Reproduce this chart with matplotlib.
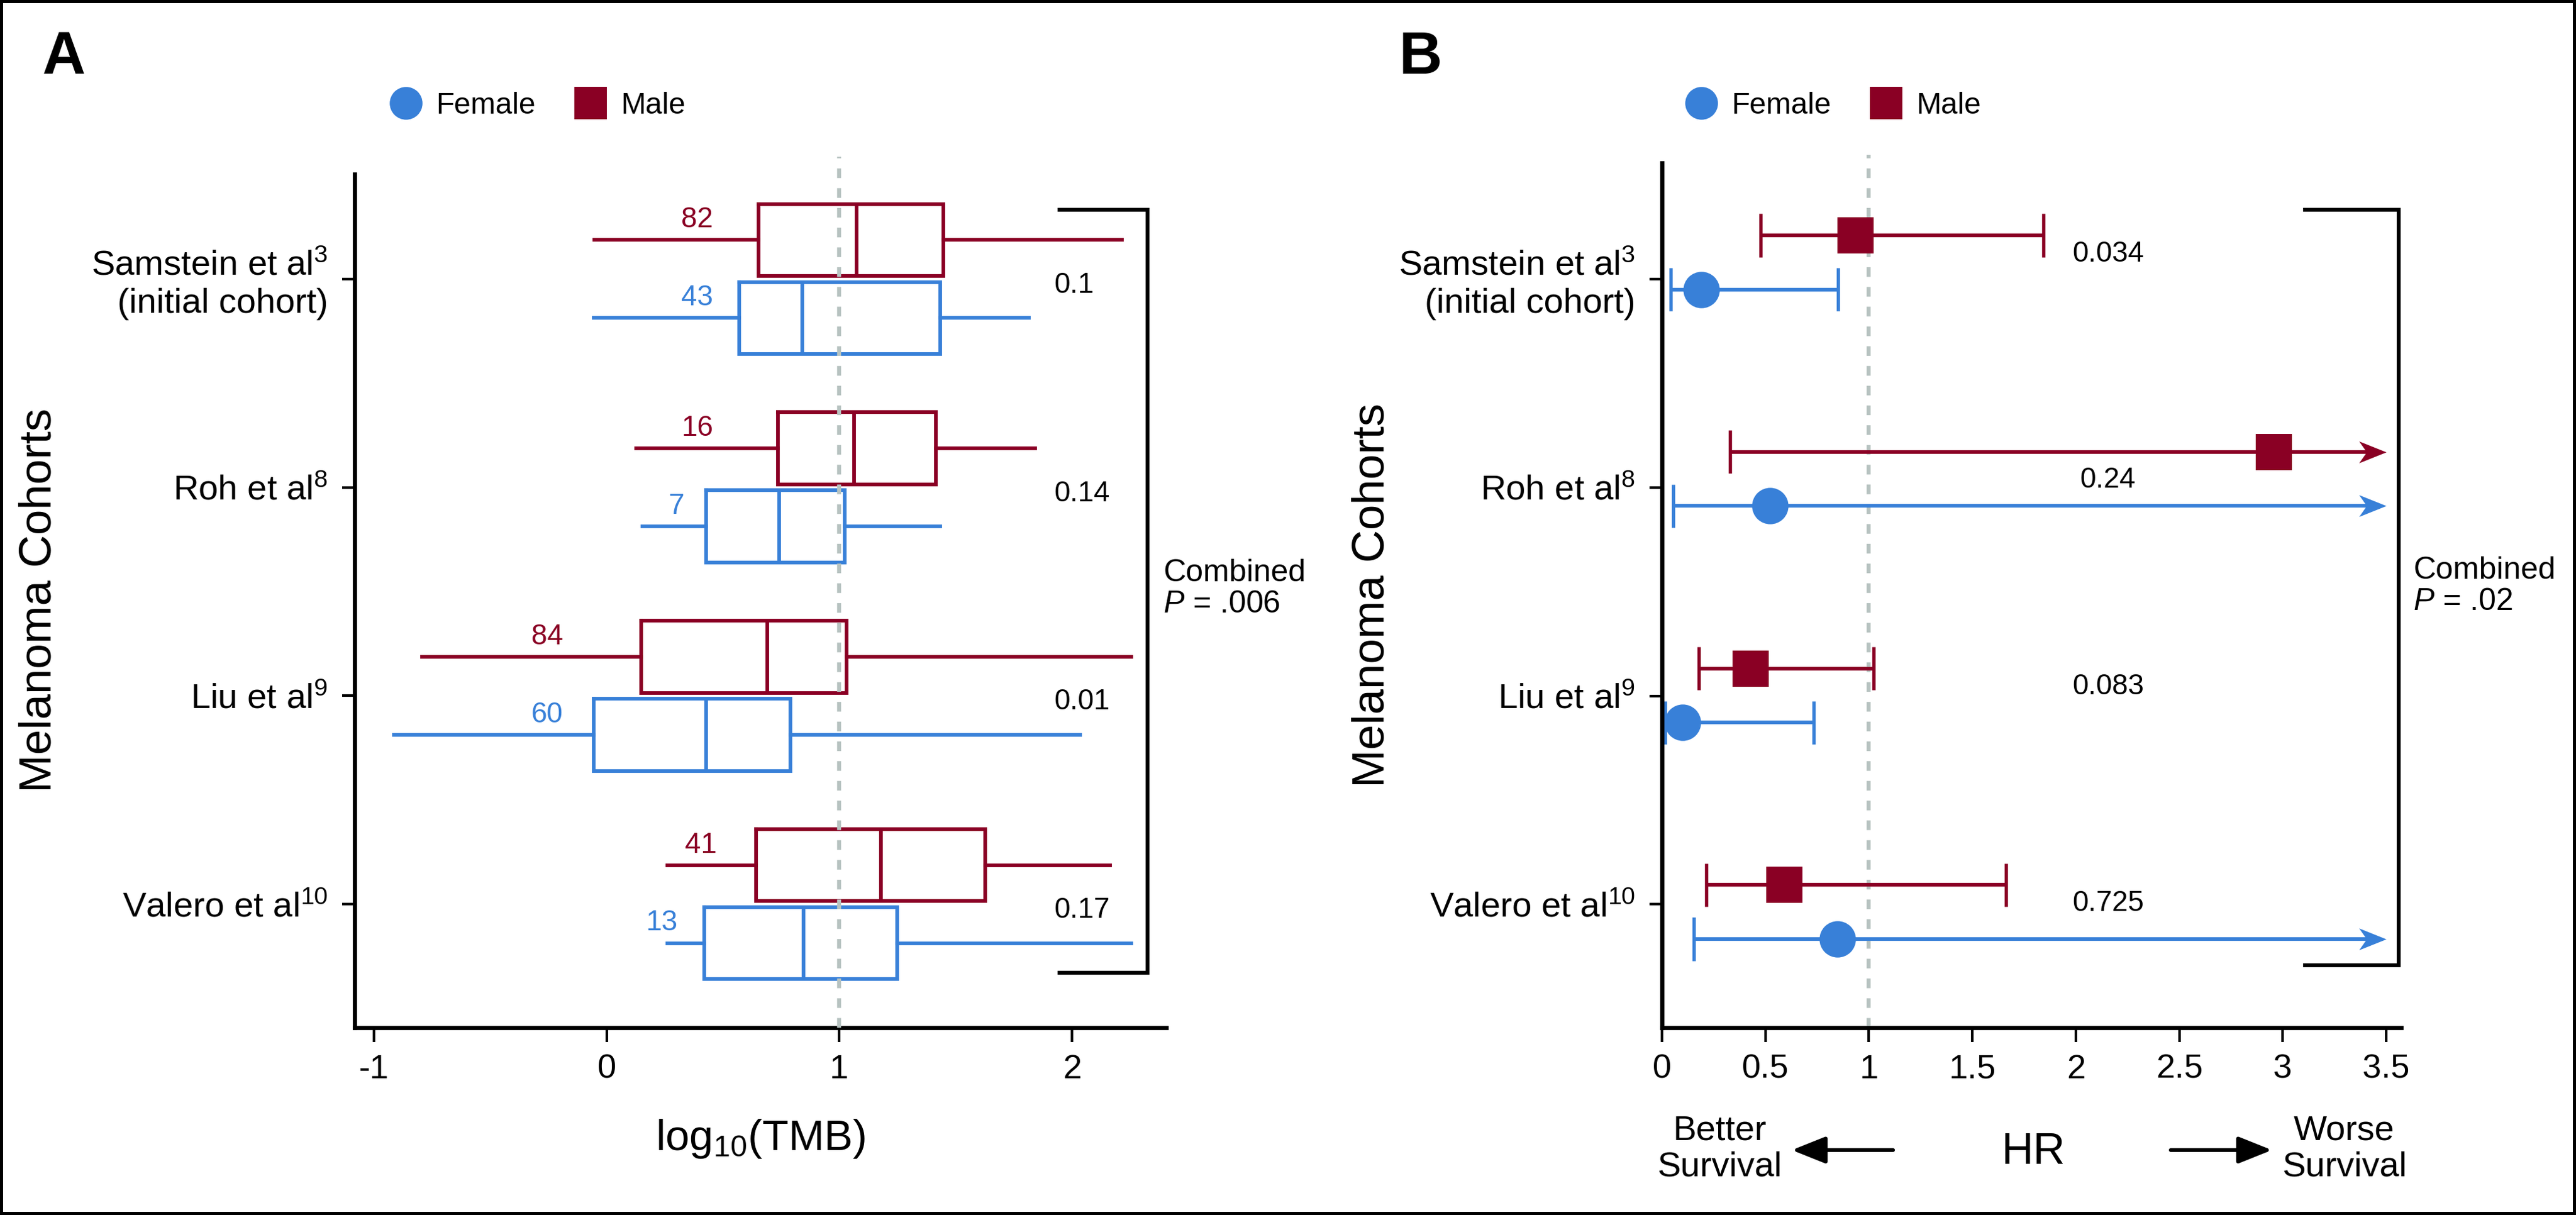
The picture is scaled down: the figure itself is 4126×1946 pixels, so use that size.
import numpy as np
import matplotlib
matplotlib.use('Agg')
import matplotlib.pyplot as plt
from matplotlib.lines import Line2D
from matplotlib.patches import Rectangle, FancyArrowPatch

plt.rcParams['font.family'] = ['Liberation Sans', 'DejaVu Sans']
plt.rcParams['mathtext.fontset'] = 'custom'
plt.rcParams['mathtext.rm'] = 'Liberation Sans'
plt.rcParams['mathtext.it'] = 'Liberation Sans:italic'
plt.rcParams['mathtext.bf'] = 'Liberation Sans:bold'
plt.rcParams['axes.unicode_minus'] = False

RED = '#8A0024'
BLUE = '#3880D8'
GREY = '#B7C3C1'

# ---- data ----
cohorts = ['Samstein et al$^{3}$\n(initial cohort)', 'Roh et al$^{8}$',
           'Liu et al$^{9}$', 'Valero et al$^{10}$']

# panel A: log10(TMB) box summaries -> whislo, q1, median, q3, whishi
male_box = [[-0.054, 0.652, 1.075, 1.446, 2.215],
            [0.128, 0.737, 1.064, 1.415, 1.842],
            [-0.794, 0.148, 0.691, 1.030, 2.254],
            [0.261, 0.641, 1.178, 1.627, 2.163]]
female_box = [[-0.055, 0.570, 0.841, 1.435, 1.815],
              [0.155, 0.427, 0.741, 1.023, 1.435],
              [-0.914, -0.056, 0.427, 0.790, 2.035],
              [0.261, 0.420, 0.847, 1.249, 2.254]]
male_n = [82, 16, 84, 41]
female_n = [43, 7, 60, 13]
p_tmb = ['0.1', '0.14', '0.01', '0.17']
p_tmb_combined = '.006'

# panel B: hazard ratios with 95% CI (nan = upper bound off the scale)
male_hr = [0.935, 2.957, 0.428, 0.591]
male_lo = [0.477, 0.329, 0.178, 0.214]
male_hi = [1.844, np.nan, 1.023, 1.663]
female_hr = [0.190, 0.522, 0.099, 0.848]
female_lo = [0.042, 0.054, 0.015, 0.154]
female_hi = [0.851, np.nan, 0.733, np.nan]
p_hr = ['0.034', '0.24', '0.083', '0.725']
p_hr_combined = '.02'

# ---- layout helpers (pixels of a 4126 x 1946 canvas) ----
W, H = 4126, 1946
def fx(x):
    return x / W
def fy(y):
    return 1 - y / H

fig = plt.figure(figsize=(W / 300, H / 300), dpi=300)
axA = fig.add_axes([fx(568), fy(1646), (1868 - 568) / W, (1646 - 251) / H])
axB = fig.add_axes([fx(2662), fy(1646), (3846 - 2662) / W, (1646 - 248) / H])

for ax in (axA, axB):
    for s in ['top', 'right']:
        ax.spines[s].set_visible(False)
    for s in ['left', 'bottom']:
        ax.spines[s].set_linewidth(1.6)
    ax.tick_params(axis='x', length=5.5, width=1, pad=4.5, labelsize=13)
    ax.tick_params(axis='y', length=4.8, width=1, pad=5.5, labelsize=13.5)

# ---- panel A ----
rows = np.arange(len(cohorts))
off_a = 0.187
series_a = [(male_box, male_n, rows - off_a, RED),
            (female_box, female_n, rows + off_a, BLUE)]
count_x = [[0.458, 0.458, -0.188, 0.472],
           [0.458, 0.335, -0.188, 0.306]]
for k, (boxes, ns, pos, col) in enumerate(series_a):
    stats = [dict(whislo=b[0], q1=b[1], med=b[2], q3=b[3], whishi=b[4]) for b in boxes]
    lp = dict(color=col, lw=1.4, solid_joinstyle='miter')
    axA.bxp(stats, positions=pos, widths=0.346, orientation='horizontal',
            showcaps=False, showfliers=False, manage_ticks=False,
            boxprops=lp, whiskerprops=lp, medianprops=lp)
    for i, n in enumerate(ns):
        axA.text(count_x[k][i], pos[i] - 0.096, str(n), ha='right', va='center',
                 color=col, fontsize=11)

for i, p in enumerate(p_tmb):
    axA.text(1.922, rows[i] + 0.03, p, ha='left', va='center', fontsize=11)

axA.axvline(1, color=GREY, lw=1.55, dashes=(2.4, 2.5), zorder=3)
axA.plot([1.946, 2.324, 2.324, 1.946], [-0.332, -0.332, 3.33, 3.33],
         color='black', lw=1.5, clip_on=False, solid_joinstyle='miter')

axA.set_xlim(-1.083, 2.405)
axA.set_ylim(3.593, -0.587)
axA.spines['left'].set_bounds(-0.503, 3.593)
axA.set_xticks([-1, 0, 1, 2])
axA.set_yticks(rows)
axA.set_yticklabels(cohorts)

# ---- panel B ----
rows_b = np.arange(len(cohorts))
off_b = 0.125
cap = 0.1
x_end = 3.5
arrow_head = [(0, 0), (-1, 0.4), (-0.72, 0), (-1, -0.4), (0, 0)]
series_b = [(male_hr, male_lo, male_hi, rows_b - off_b, RED, 's'),
            (female_hr, female_lo, female_hi, rows_b + off_b, BLUE, 'o')]
for hr, lo, hi, pos, col, mk in series_b:
    hr, lo, hi = np.array(hr), np.array(lo), np.array(hi)
    open_hi = np.isnan(hi)
    hi_draw = np.where(open_hi, x_end - 0.04, hi)
    axB.hlines(pos, lo, hi_draw, color=col, lw=1.4, zorder=2)
    axB.vlines(lo, pos - cap, pos + cap, color=col, lw=1.3, zorder=2)
    axB.vlines(hi[~open_hi], pos[~open_hi] - cap, pos[~open_hi] + cap,
               color=col, lw=1.3, zorder=2)
    axB.plot(np.full(open_hi.sum(), x_end), pos[open_hi], ls='', marker=arrow_head,
             ms=21, color=col, mew=0, zorder=3, clip_on=False)
    axB.plot(hr, pos, ls='', marker=mk, ms=14, color=col, mew=0, zorder=4, clip_on=False)

p_off = [-0.04, 0.005, -0.04, -0.04]
for i, p in enumerate(p_hr):
    axB.text(2.155, rows_b[i] + p_off[i], p, ha='center', va='center', fontsize=11)

axB.axvline(1, color=GREY, lw=1.55, dashes=(2.4, 2.5), zorder=1)
axB.plot([3.108, 3.56, 3.56, 3.108], [-0.244, -0.244, 3.246, 3.246],
         color='black', lw=1.5, clip_on=False, solid_joinstyle='miter')

axB.set_xlim(0, 3.572)
axB.set_ylim(3.535, -0.4975)
axB.spines['left'].set_bounds(-0.46, 3.535)
hr_ticks = np.arange(0, 3.51, 0.5)
axB.set_xticks(hr_ticks)
axB.set_xticklabels([f'{v:g}' for v in hr_ticks])
axB.set_yticks(np.arange(len(cohorts)) * 0.963 + 0.076)
axB.set_yticklabels(cohorts)

# ---- legends ----
handles = [Line2D([], [], ls='', marker='o', ms=12.6, mew=0, color=BLUE, label='Female'),
           Line2D([], [], ls='', marker='s', ms=12.4, mew=0, color=RED, label='Male')]
for x0 in (626, 2701):
    fig.legend(handles=handles, loc='center left', bbox_to_anchor=(fx(x0), fy(169)),
               ncol=2, frameon=False, fontsize=11.5, handlelength=1.0,
               handletextpad=0.5, columnspacing=1.35, borderpad=0, borderaxespad=0)

# ---- texts ----
fig.text(fx(68), fy(118), 'A', fontsize=23, fontweight='bold', va='baseline')
fig.text(fx(2241), fy(118), 'B', fontsize=23, fontweight='bold', va='baseline')
fig.text(fx(63), fy(961), 'Melanoma Cohorts', rotation=90, ha='center', va='center',
         fontsize=17.5)
fig.text(fx(2198), fy(953), 'Melanoma Cohorts', rotation=90, ha='center', va='center',
         fontsize=17.5)
fig.text(fx(1218), fy(1842), 'log$_{10}$(TMB)', ha='center', va='baseline', fontsize=16.5)
fig.text(fx(1863), fy(943), 'Combined\n$P$ = ' + p_tmb_combined, ha='left', va='center',
         fontsize=12, linespacing=1.1)
fig.text(fx(3865), fy(939), 'Combined\n$P$ = ' + p_hr_combined, ha='left', va='center',
         fontsize=12, linespacing=1.1)

fig.text(fx(3256), fy(1864), 'HR', ha='center', va='baseline', fontsize=17)
fig.text(fx(2754), fy(1840), 'Better\nSurvival', ha='center', va='center',
         fontsize=13.5, linespacing=1.15)
fig.text(fx(3755), fy(1840), 'Worse\nSurvival', ha='center', va='center',
         fontsize=13.5, linespacing=1.15)
for tail, tip in [(3032, 2870), (3477, 3639)]:
    fig.add_artist(FancyArrowPatch((fx(tail), fy(1842)), (fx(tip), fy(1842)),
                                   transform=fig.transFigure,
                                   arrowstyle='-|>,head_length=0.55,head_width=0.22',
                                   mutation_scale=20, lw=1.5, color='black',
                                   shrinkA=0, shrinkB=0))

fig.add_artist(Rectangle((0, 0), 1, 1, transform=fig.transFigure, fill=False,
                         lw=2.4, ec='black'))

fig.savefig('out.png', dpi=300)
